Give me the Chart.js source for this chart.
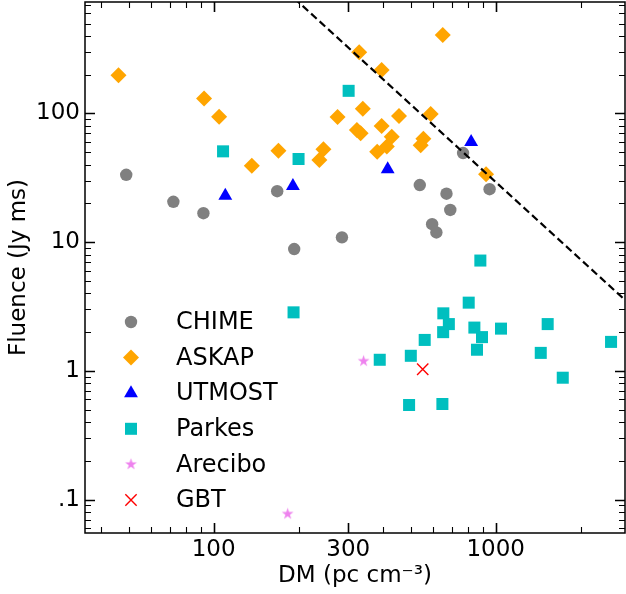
<!DOCTYPE html>
<html>
<head>
<meta charset="utf-8">
<script src="https://cdn.jsdelivr.net/npm/chart.js@4.4.1/dist/chart.umd.min.js"></script>
<style>
  html, body { margin: 0; padding: 0; background: #fff; }
  #frbChart { display: block; }
</style>
</head>
<body>
<canvas id="frbChart" width="626" height="594"></canvas>
<script>
// FRB fluence vs dispersion measure, one series per survey
const chimeDM      = [49, 72, 92, 168, 193, 285, 538, 595, 616, 669, 690, 766, 951];
const chimeFluence = [33.4, 20.6, 16.8, 24.9, 8.85, 10.9, 27.8, 13.8, 11.9, 23.8, 17.8, 49.3, 25.8];

const askapDM      = [46, 92.5, 104.6, 136.6, 169.7, 237, 245, 275, 322, 332, 328, 338, 380, 394, 394, 411, 428, 454, 542, 554, 588, 649, 924];
const askapFluence = [198, 131, 94.4, 39.3, 51.4, 43.5, 52.7, 94, 74.5, 70.2, 299, 109, 50.5, 80, 218, 55.3, 66, 95.6, 56.6, 63.7, 99, 407, 33.7];

const utmostDM      = [110, 191, 414, 818];
const utmostFluence = [23, 27.3, 36.8, 60];

const parkesDM      = [108, 200, 301, 192, 882, 802, 652, 682, 651, 840, 894, 858, 1044, 1528, 1444, 1728, 2563, 560, 500, 388, 493, 647];
const parkesFluence = [50.8, 44.3, 150, 2.85, 7.2, 3.39, 2.8, 2.31, 2.0, 2.17, 1.83, 1.46, 2.13, 2.31, 1.38, 0.885, 1.68, 1.74, 1.31, 1.22, 0.543, 0.553];

const areciboDM      = [340, 183];
const areciboFluence = [1.19, 0.0773];

const gbtDM      = [551];
const gbtFluence = [1.03];

// dashed reference line (F ~ DM^-2)
const lineDM      = [180, 3000];
const lineFluence = [904, 3.26];

const xTickLabels = [100, 300, 1000];
const yTickLabels = [0.1, 1, 10, 100];
const xRange = [35, 2872];
const yRange = [0.055, 735];

const FONT = 'DejaVu Sans';

function pts(xs, ys) {
  return xs.map((v, i) => ({ x: v, y: ys[i] }));
}

function starImage(r, color) {
  const c = document.createElement('canvas');
  const s = Math.ceil(r * 2 + 2);
  c.width = c.height = s;
  const g = c.getContext('2d');
  g.fillStyle = color;
  g.beginPath();
  for (let i = 0; i < 10; i++) {
    const rr = i % 2 ? r * 0.382 : r;
    const a = -Math.PI / 2 + i * Math.PI / 5;
    g.lineTo(s / 2 + rr * Math.cos(a), s / 2 + rr * Math.sin(a));
  }
  g.closePath();
  g.fill();
  return c;
}

// minor tick positions (2..9 x decade), majors skipped
function minorTicks(range, majors) {
  const out = [];
  for (let d = -3; d <= 4; d++) {
    for (let m = 2; m <= 9; m++) {
      const v = m * Math.pow(10, d);
      if (v > range[0] && v < range[1] && !majors.some(t => Math.abs(t - v) / v < 1e-6)) out.push(v);
    }
  }
  return out;
}

const xMinor = minorTicks(xRange, xTickLabels);
const yMinor = minorTicks(yRange, yTickLabels);

// frame + inward ticks on all four sides
const frameTicks = {
  id: 'frameTicks',
  afterDatasetsDraw(chart) {
    const { ctx, chartArea: a, scales: { x, y } } = chart;
    ctx.save();
    ctx.strokeStyle = '#000';
    const drawX = (vals, len, lw) => {
      ctx.lineWidth = lw;
      ctx.beginPath();
      vals.forEach(v => {
        const px = Math.round(x.getPixelForValue(v)) + 0.5;
        ctx.moveTo(px, a.bottom); ctx.lineTo(px, a.bottom - len);
        ctx.moveTo(px, a.top); ctx.lineTo(px, a.top + len);
      });
      ctx.stroke();
    };
    const drawY = (vals, len, lw) => {
      ctx.lineWidth = lw;
      ctx.beginPath();
      vals.forEach(v => {
        const py = Math.round(y.getPixelForValue(v)) + 0.5;
        ctx.moveTo(a.left, py); ctx.lineTo(a.left + len, py);
        ctx.moveTo(a.right, py); ctx.lineTo(a.right - len, py);
      });
      ctx.stroke();
    };
    drawX(xTickLabels, 10, 1.6);
    drawX(xMinor, 6, 1.1);
    drawY(yTickLabels, 10, 1.6);
    drawY(yMinor, 6, 1.1);
    ctx.lineWidth = 1.5;
    ctx.strokeRect(a.left, a.top, a.right - a.left, a.bottom - a.top);
    ctx.restore();
  }
};

// legend inside the plot, lower left
const innerLegend = {
  id: 'innerLegend',
  afterDraw(chart) {
    const { ctx } = chart;
    const sets = chart.data.datasets.filter(d => d.inLegend);
    ctx.save();
    ctx.font = '24px "' + FONT + '"';
    ctx.textBaseline = 'middle';
    ctx.textAlign = 'left';
    sets.forEach((d, i) => {
      const yy = 322 + i * 35.6;
      ctx.fillStyle = d.backgroundColor;
      ctx.strokeStyle = d.borderColor;
      ctx.lineWidth = d.borderWidth || 0;
      Chart.helpers.drawPoint(ctx, {
        pointStyle: d.pointStyle, radius: d.pointRadius,
        borderWidth: d.borderWidth || 0, rotation: 0
      }, 131, yy);
      ctx.fillStyle = '#000';
      ctx.fillText(d.label, 176, yy + 1);
    });
    ctx.restore();
  }
};

const ctx = document.getElementById('frbChart').getContext('2d');
const frbChart = new Chart(ctx, {
  type: 'scatter',
  data: {
    datasets: [
      {
        label: 'CHIME', inLegend: true, order: 6,
        data: pts(chimeDM, chimeFluence),
        pointStyle: 'circle', pointRadius: 6.2,
        backgroundColor: '#808080', borderColor: '#808080', borderWidth: 0
      },
      {
        label: 'ASKAP', inLegend: true, order: 5,
        data: pts(askapDM, askapFluence),
        pointStyle: 'rectRot', pointRadius: 8,
        backgroundColor: '#FFA500', borderColor: '#FFA500', borderWidth: 0
      },
      {
        label: 'UTMOST', inLegend: true, order: 4,
        data: pts(utmostDM, utmostFluence),
        pointStyle: 'triangle', pointRadius: 8,
        backgroundColor: '#0000FF', borderColor: '#0000FF', borderWidth: 0
      },
      {
        label: 'Parkes', inLegend: true, order: 3,
        data: pts(parkesDM, parkesFluence),
        pointStyle: 'rect', pointRadius: 8.5,
        backgroundColor: '#00BFBF', borderColor: '#00BFBF', borderWidth: 0
      },
      {
        label: 'Arecibo', inLegend: true, order: 2,
        data: pts(areciboDM, areciboFluence),
        pointStyle: starImage(6.2, '#EE82EE'), pointRadius: 7,
        backgroundColor: '#EE82EE', borderColor: '#EE82EE', borderWidth: 0
      },
      {
        label: 'GBT', inLegend: true, order: 1,
        data: pts(gbtDM, gbtFluence),
        pointStyle: 'crossRot', pointRadius: 8,
        backgroundColor: '#FF0000', borderColor: '#FF0000', borderWidth: 1.4
      },
      {
        type: 'line', label: 'limit', order: 0,
        data: pts(lineDM, lineFluence),
        showLine: true, pointRadius: 0,
        borderColor: '#000', borderWidth: 2.2, borderDash: [7.5, 4]
      }
    ]
  },
  options: {
    responsive: false,
    animation: false,
    devicePixelRatio: 1,
    events: [],
    layout: { autoPadding: false, padding: { top: 2, right: 1, left: 0, bottom: 0 } },
    plugins: {
      legend: { display: false },
      tooltip: { enabled: false }
    },
    scales: {
      x: {
        type: 'logarithmic',
        min: xRange[0], max: xRange[1],
        grid: { display: false, drawTicks: false },
        border: { display: false },
        afterBuildTicks: s => { s.ticks = xTickLabels.map(v => ({ value: v })); },
        afterFit: s => { s.height = 61; s.paddingLeft = 0; s.paddingRight = 0; },
        ticks: {
          color: '#000', padding: 3, maxRotation: 0, autoSkip: false,
          font: { family: FONT, size: 23 },
          callback: v => String(v)
        },
        title: {
          display: true, text: 'DM (pc cm⁻³)', color: '#000',
          font: { family: FONT, size: 23 }, padding: { top: 0, bottom: 4 }
        }
      },
      y: {
        type: 'logarithmic',
        min: yRange[0], max: yRange[1],
        grid: { display: false, drawTicks: false },
        border: { display: false },
        afterBuildTicks: s => { s.ticks = yTickLabels.map(v => ({ value: v })); },
        afterFit: s => { s.width = 85; s.paddingTop = 0; s.paddingBottom = 0; },
        ticks: {
          color: '#000', padding: 5, autoSkip: false,
          font: { family: FONT, size: 23 },
          callback: v => (v === 0.1 ? '.1' : String(v))
        },
        title: {
          display: true, text: 'Fluence (Jy ms)', color: '#000',
          font: { family: FONT, size: 23 }, padding: { top: 5, bottom: 0 }
        }
      }
    }
  },
  plugins: [frameTicks, innerLegend]
});
</script>
</body>
</html>
